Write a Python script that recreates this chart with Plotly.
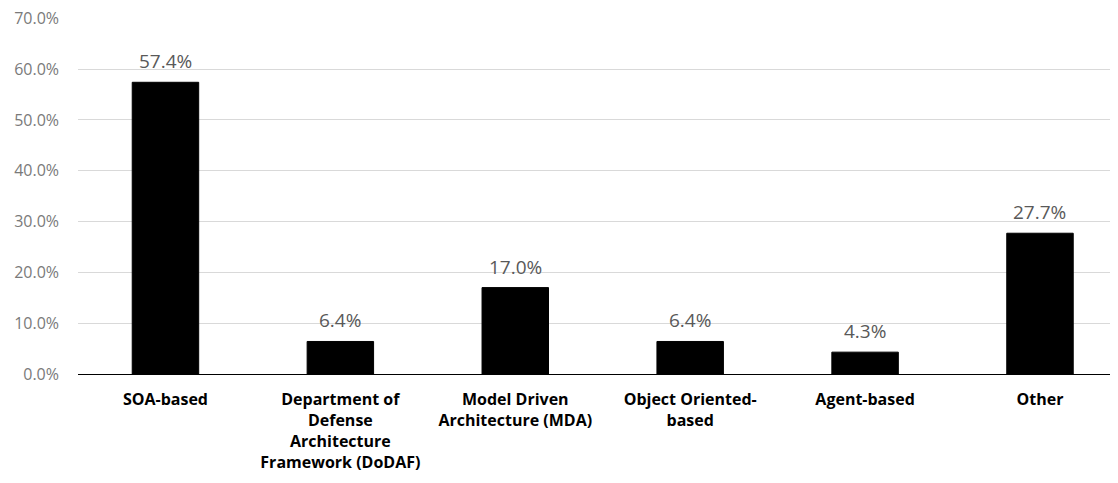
import plotly.graph_objects as go

categories = [
    "SOA-based",
    "Department of<br>Defense<br>Architecture<br>Framework (DoDAF)",
    "Model Driven<br>Architecture (MDA)",
    "Object Oriented-<br>based",
    "Agent-based",
    "Other",
]
values = [0.574, 0.064, 0.170, 0.064, 0.043, 0.277]
y_ticks = [0, 0.1, 0.2, 0.3, 0.4, 0.5, 0.6, 0.7]

FONT = "Open Sans, Liberation Sans, sans-serif"

fig = go.Figure(
    go.Bar(
        x=categories,
        y=values,
        marker=dict(color="black", line=dict(color="black", width=1)),
        cliponaxis=False,
    )
)

for c, v in zip(categories, values):
    fig.add_annotation(
        x=c, y=v, text=f"{v * 100:.1f}%", showarrow=False,
        yanchor="bottom", yshift=6,
        font=dict(family=FONT, size=19, color="#595959"),
    )

fig.update_layout(
    width=1110,
    height=475,
    margin=dict(l=70, r=0, t=10, b=109, autoexpand=False),
    plot_bgcolor="white",
    paper_bgcolor="white",
    bargap=0.62,
    showlegend=False,
    font=dict(family=FONT),
)
fig.update_xaxes(
    range=[-0.5, 5.446],
    showline=True,
    linecolor="black",
    linewidth=1.2,
    ticks="",
    tickfont=dict(size=16, color="black", weight="bold"),
    showgrid=False,
    ticklabelstandoff=11,
    automargin=False,
)
fig.update_yaxes(
    range=[0, 0.7005],
    tickvals=y_ticks,
    tickformat=".1%",
    tickfont=dict(size=16, color="#7a7a7a"),
    gridcolor="#d9d9d9",
    gridwidth=1,
    zeroline=False,
    showline=False,
    ticks="",
    ticklabelstandoff=18,
    ticklabeloverflow="allow",
    automargin=False,
)

fig.write_html("out.html")
